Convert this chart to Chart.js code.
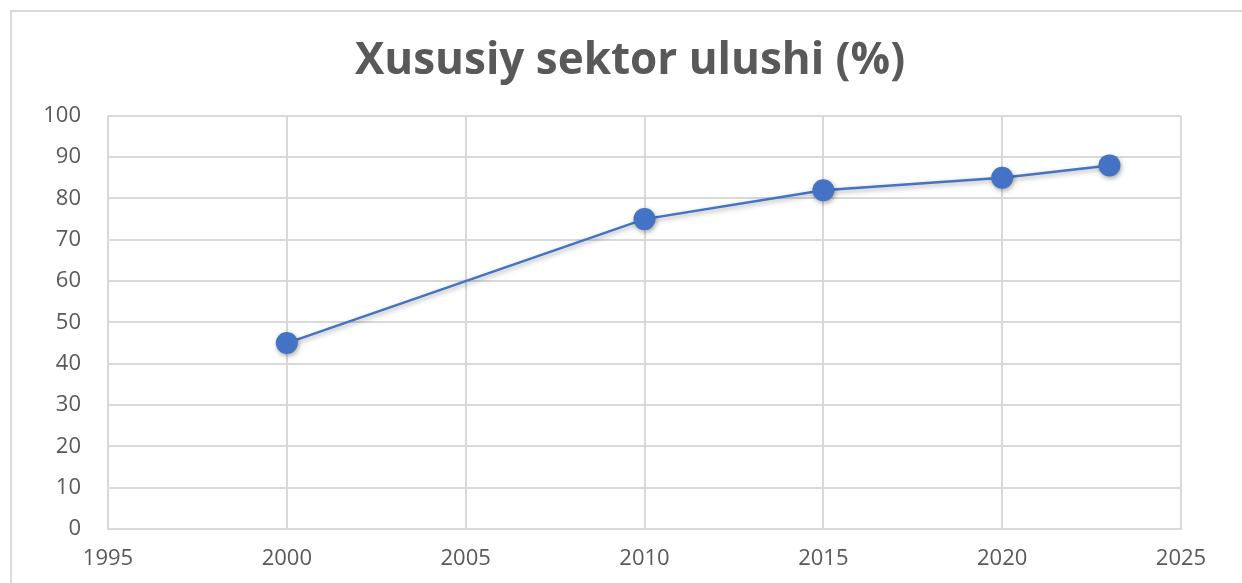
<!DOCTYPE html>
<html>
<head>
<meta charset="utf-8">
<script src="https://cdn.jsdelivr.net/npm/chart.js@4"></script>
<style>
    html, body { margin: 0; padding: 0; background: #fff; }
    body { width: 1242px; height: 583px; position: relative; overflow: hidden; }
    #frame {
        position: absolute; left: 10px; top: 10px; width: 1240px; height: 600px;
        border: 2px solid #d9d9d9; box-sizing: border-box;
    }
    #wrap { position: absolute; left: 0; top: 0; width: 1242px; height: 583px; }
</style>
</head>
<body>
<div id="frame"></div>
<div id="wrap"><canvas id="grafico"></canvas></div>
<script>
const anos = [2000, 2010, 2015, 2020, 2023];
const ulush = [45, 75, 82, 85, 88];
const xTicks = [1995, 2000, 2005, 2010, 2015, 2020, 2025];
const yTicks = [0, 10, 20, 30, 40, 50, 60, 70, 80, 90, 100];

const cinza = '#d9d9d9';
const texto = '#595959';
const azul = '#4472C4';

const sombra = {
    id: 'sombra',
    beforeDatasetsDraw(chart) {
        const ctx = chart.ctx;
        ctx.save();
        ctx.shadowColor = 'rgba(0,0,0,0.35)';
        ctx.shadowBlur = 5;
        ctx.shadowOffsetX = 1;
        ctx.shadowOffsetY = 2;
    },
    afterDatasetsDraw(chart) {
        chart.ctx.restore();
    }
};

const ctx = document.getElementById('grafico').getContext('2d');
const grafico = new Chart(ctx, {
    type: 'scatter',
    data: {
        datasets: [{
            label: 'Xususiy sektor ulushi (%)',
            data: anos.map((a, i) => ({ x: a, y: ulush[i] })),
            showLine: true,
            borderColor: azul,
            borderWidth: 2.5,
            backgroundColor: azul,
            pointRadius: 11,
            pointHoverRadius: 11,
            pointBorderWidth: 0
        }]
    },
    options: {
        responsive: true,
        maintainAspectRatio: false,
        animation: false,
        layout: { padding: { left: 20, right: 2, top: 0, bottom: 0 } },
        plugins: {
            legend: { display: false },
            tooltip: { enabled: false },
            title: {
                display: true,
                text: 'Xususiy sektor ulushi (%)',
                color: texto,
                font: { family: 'Open Sans', size: 44, weight: 'bold' },
                padding: { top: 35, bottom: 28 }
            }
        },
        scales: {
            x: {
                type: 'linear',
                min: 1995,
                max: 2025,
                afterBuildTicks: (s) => { s.ticks = xTicks.map(v => ({ value: v })); },
                afterFit: (s) => { s.height = 54; },
                ticks: {
                    color: texto,
                    font: { family: 'Open Sans', size: 22 },
                    padding: 17,
                    callback: (v) => String(v)
                },
                grid: { color: cinza, lineWidth: 2, drawTicks: false },
                border: { color: cinza, width: 2 }
            },
            y: {
                min: 0,
                max: 100,
                afterBuildTicks: (s) => { s.ticks = yTicks.map(v => ({ value: v })); },
                afterFit: (s) => { s.width = 88; },
                ticks: {
                    color: texto,
                    font: { family: 'Open Sans', size: 22 },
                    padding: 27
                },
                grid: { color: cinza, lineWidth: 2, drawTicks: false },
                border: { color: cinza, width: 2 }
            },
            vazio: {
                type: 'linear',
                position: 'right',
                afterFit: (s) => { s.width = 59; },
                ticks: { display: false },
                grid: { display: false },
                border: { display: false }
            }
        }
    },
    plugins: [sombra]
});
</script>
</body>
</html>
